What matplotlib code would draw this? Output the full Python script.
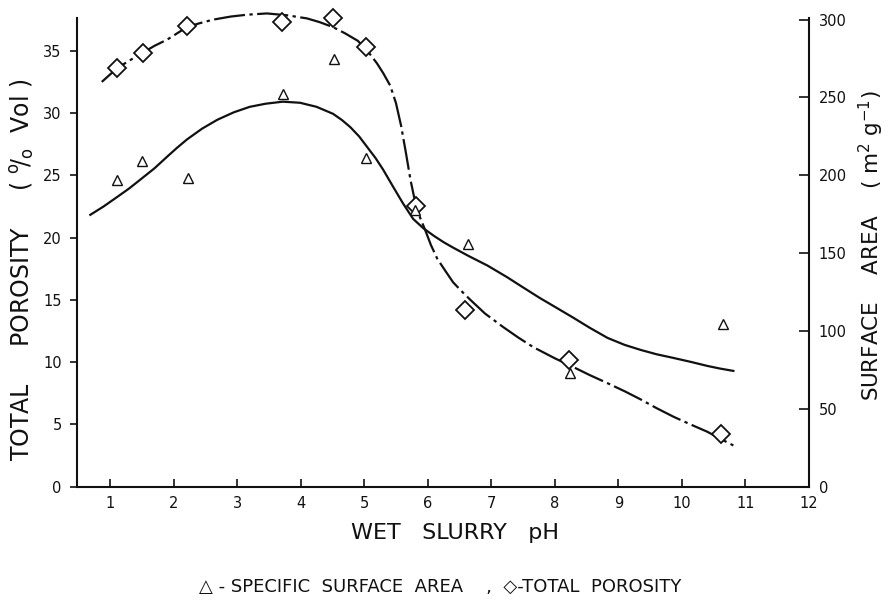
import matplotlib
matplotlib.use("Agg")
import matplotlib.pyplot as plt

plt.rcParams['font.family'] = ['DejaVu Sans']

# measured points
ph_area = [1.11, 1.50, 2.23, 3.72, 4.53, 5.03, 5.80, 6.64, 8.24, 10.65]
area = [197, 209, 198, 252, 275, 211, 178, 156, 73, 104.5]

ph_poro = [1.11, 1.52, 2.21, 3.71, 4.51, 5.03, 5.82, 6.59, 8.23, 10.62]
porosity = [33.6, 34.8, 37.0, 37.3, 37.6, 35.3, 22.5, 14.2, 10.2, 4.2]

# hand-fitted curves
ph_area_fit = [0.69, 0.90, 1.11, 1.30, 1.47, 1.70, 1.90, 2.05, 2.21, 2.45,
               2.69, 2.95, 3.20, 3.45, 3.72, 3.99, 4.25, 4.51, 4.65, 4.78,
               4.92, 5.05, 5.18, 5.30, 5.45, 5.61, 5.77, 5.93, 6.10, 6.25,
               6.40, 6.65, 6.94, 7.25, 7.46, 7.77, 8.00, 8.29, 8.55, 8.83,
               9.10, 9.35, 9.60, 9.87, 10.15, 10.40, 10.60, 10.81]
area_fit = [174.6, 180, 186, 191.5, 197, 204.5, 212, 217.5, 223, 230,
            235.7, 240.5, 244, 246, 247.3, 246.6, 244, 239.5, 235.5, 231,
            225, 218, 211, 203.5, 193, 182, 172, 166, 161, 157,
            153.5, 148, 142, 134.5, 129, 121, 115.5, 108.5, 102, 95.5,
            91, 87.8, 85, 82.6, 80, 77.5, 75.8, 74.3]

ph_poro_fit = [0.87, 1.11, 1.30, 1.50, 1.70, 1.90, 2.21, 2.40, 2.62, 2.90,
               3.16, 3.47, 3.79, 4.10, 4.30, 4.51, 4.70, 4.90, 5.05, 5.20,
               5.30, 5.41, 5.50, 5.58, 5.65, 5.73, 5.80, 5.88, 5.96, 6.05,
               6.15, 6.28, 6.40, 6.55, 6.67, 6.90, 7.19, 7.43, 7.66, 8.00,
               8.29, 8.55, 8.83, 9.10, 9.35, 9.60, 9.87, 10.13, 10.40, 10.60,
               10.81]
poro_fit = [32.5, 33.6, 34.2, 34.8, 35.4, 35.9, 36.9, 37.2, 37.5, 37.75,
            37.9, 38.0, 37.85, 37.6, 37.3, 36.9, 36.4, 35.8, 35.0, 34.0,
            33.2, 32.2, 30.8, 29.0, 27.0, 24.6, 22.9, 21.6, 20.6, 19.4,
            18.3, 17.3, 16.4, 15.6, 15.0, 13.9, 12.8, 11.95, 11.2, 10.3,
            9.6, 8.95, 8.3, 7.65, 7.0, 6.3, 5.6, 5.0, 4.4, 3.85,
            3.3]

x_ticks = list(range(1, 13))
poro_ticks = [0, 5, 10, 15, 20, 25, 30, 35]
area_ticks = [0, 50, 100, 150, 200, 250, 300]

ink = '#111111'

fig = plt.figure(figsize=(8.88, 6.04), dpi=100)
ax = fig.add_axes([0.0867, 0.1945, 0.8243, 0.775])
ax2 = ax.twinx()

# porosity (left axis)
ax.plot(ph_poro_fit, poro_fit, color=ink, lw=1.6,
        linestyle=(0, (14, 2, 1.5, 2)), zorder=3, clip_on=False)
ax.plot(ph_poro, porosity, linestyle='none', marker='D', markersize=9.5,
        markerfacecolor='white', markeredgecolor=ink, markeredgewidth=1.3,
        zorder=4, clip_on=False)

# surface area (right axis)
ax2.plot(ph_area_fit, area_fit, color=ink, lw=1.6, zorder=3, clip_on=False)
ax2.plot(ph_area, area, linestyle='none', marker='^', markersize=7.5,
         markerfacecolor='white', markeredgecolor=ink, markeredgewidth=1.0,
         zorder=4, clip_on=False)

ax.set_xlim(0.48, 12)
ax.set_ylim(0, 37.6)
ax2.set_ylim(0, 300.8)

ax.set_xticks(x_ticks)
ax.set_yticks(poro_ticks)
ax2.set_yticks(area_ticks)

for a in (ax, ax2):
    a.spines['top'].set_visible(False)
    for s in a.spines.values():
        s.set_linewidth(1.5)
        s.set_color(ink)
ax.spines['right'].set_visible(False)
ax2.spines['left'].set_visible(False)
ax2.spines['bottom'].set_visible(False)

ax.tick_params(axis='y', direction='out', length=5, width=1.2, pad=6,
               labelsize=10.5, colors=ink)
ax.tick_params(axis='x', direction='in', length=6, width=1.2, pad=7,
               labelsize=10.5, colors=ink)
ax2.tick_params(axis='y', direction='in', length=7, width=1.2, pad=7,
                labelsize=10.5, colors=ink)

fig.text(0.512, 0.1175, 'WET   SLURRY   pH', ha='center', va='center',
         fontsize=16, color=ink)
fig.text(0.0259, 0.553, r'TOTAL     POROSITY     ( $^{\rm o}\!/_{\rm o}$  Vol )',
         ha='center', va='center', rotation=90, fontsize=17, color=ink)
fig.text(0.981, 0.5927, r'SURFACE    AREA    ( m$^{2}$ g$^{-1}$)',
         ha='center', va='center', rotation=90, fontsize=15.5, color=ink)
fig.text(0.4955, 0.0281,
         '△ - SPECIFIC  SURFACE  AREA    ,  ◇-TOTAL  POROSITY',
         ha='center', va='center', fontsize=13, color=ink)

fig.savefig('out.png', dpi=100)
